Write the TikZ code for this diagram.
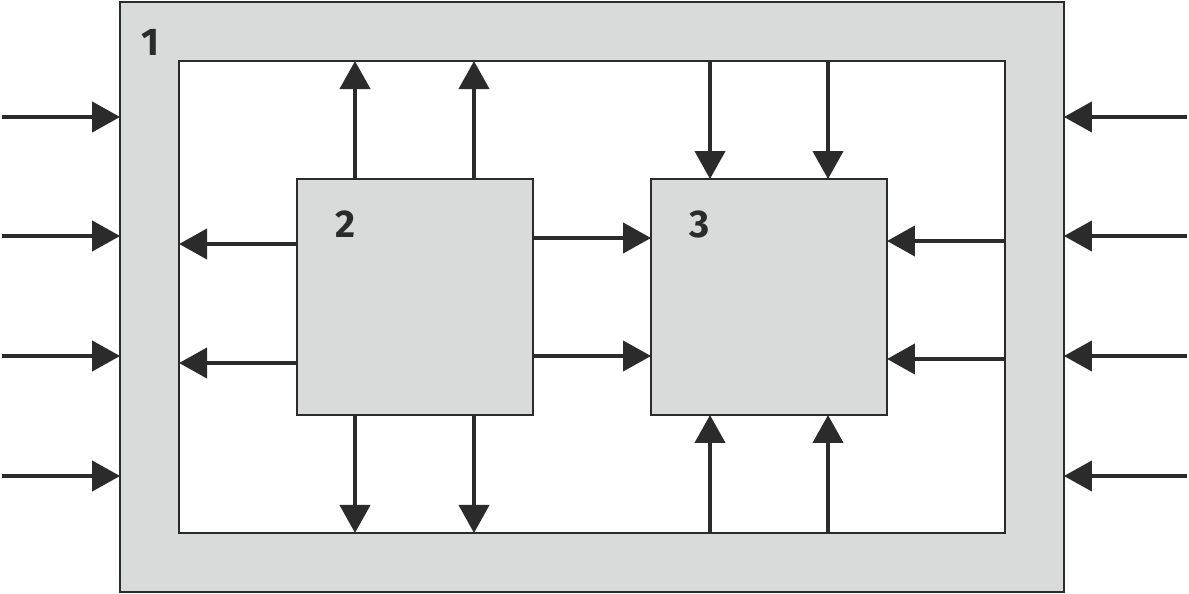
\documentclass[tikz,border=0pt]{standalone}
\usepackage{fontspec}
\setmainfont{Fira Sans}
\usetikzlibrary{arrows.meta}
\definecolor{boxgray}{HTML}{D9DADA}
\definecolor{ink}{HTML}{2B2B2B}
\tikzset{
  blk/.style={draw=ink,line width=1.2pt,fill=boxgray,inner sep=0pt,outer sep=0pt},
  hole/.style={draw=ink,line width=1.2pt,fill=white,inner sep=0pt,outer sep=0pt},
  arr/.style={draw=ink,line width=2.4pt,-{Triangle[length=5.6mm,width=6mm]}},
  num/.style={font=\fontsize{22}{24}\selectfont\bfseries,text=ink}
}
\begin{document}
\begin{tikzpicture}[x=0.02cm,y=-0.02cm]
\useasboundingbox (0,0) rectangle (1189,594);
\node[blk,minimum width=18.88cm,minimum height=11.8cm] (outer) at (592,297) {};
\node[hole,minimum width=16.52cm,minimum height=9.44cm] (inner) at (592,297) {};
\node[blk,minimum size=4.72cm] (b2) at (415,297) {};
\node[blk,minimum size=4.72cm] (b3) at (769,297) {};
\node[num] (n1) at (150,42) {1};
\node[num] (n2) at (345,224) {2};
\node[num] (n3) at (700,224) {3};
% inputs into the outer frame
\foreach \y in {117,236,356,476} {
  \coordinate (l\y) at (2,\y);
  \coordinate (r\y) at (1187,\y);
  \draw[arr] (l\y) -- (outer.west |- 0,\y);
  \draw[arr] (r\y) -- (outer.east |- 0,\y);
}
% block 2
\foreach \x in {355,474} {
  \draw[arr] (b2.north -| \x,0) -- (inner.north -| \x,0);
  \draw[arr] (b2.south -| \x,0) -- (inner.south -| \x,0);
}
\foreach \y in {244,363} \draw[arr] (b2.west |- 0,\y) -- (inner.west |- 0,\y);
\foreach \y in {238,356} \draw[arr] (b2.east |- 0,\y) -- (b3.west |- 0,\y);
% block 3
\foreach \x in {710,828} {
  \draw[arr] (inner.north -| \x,0) -- (b3.north -| \x,0);
  \draw[arr] (inner.south -| \x,0) -- (b3.south -| \x,0);
}
\foreach \y in {241,359} \draw[arr] (inner.east |- 0,\y) -- (b3.east |- 0,\y);
\end{tikzpicture}
\end{document}
